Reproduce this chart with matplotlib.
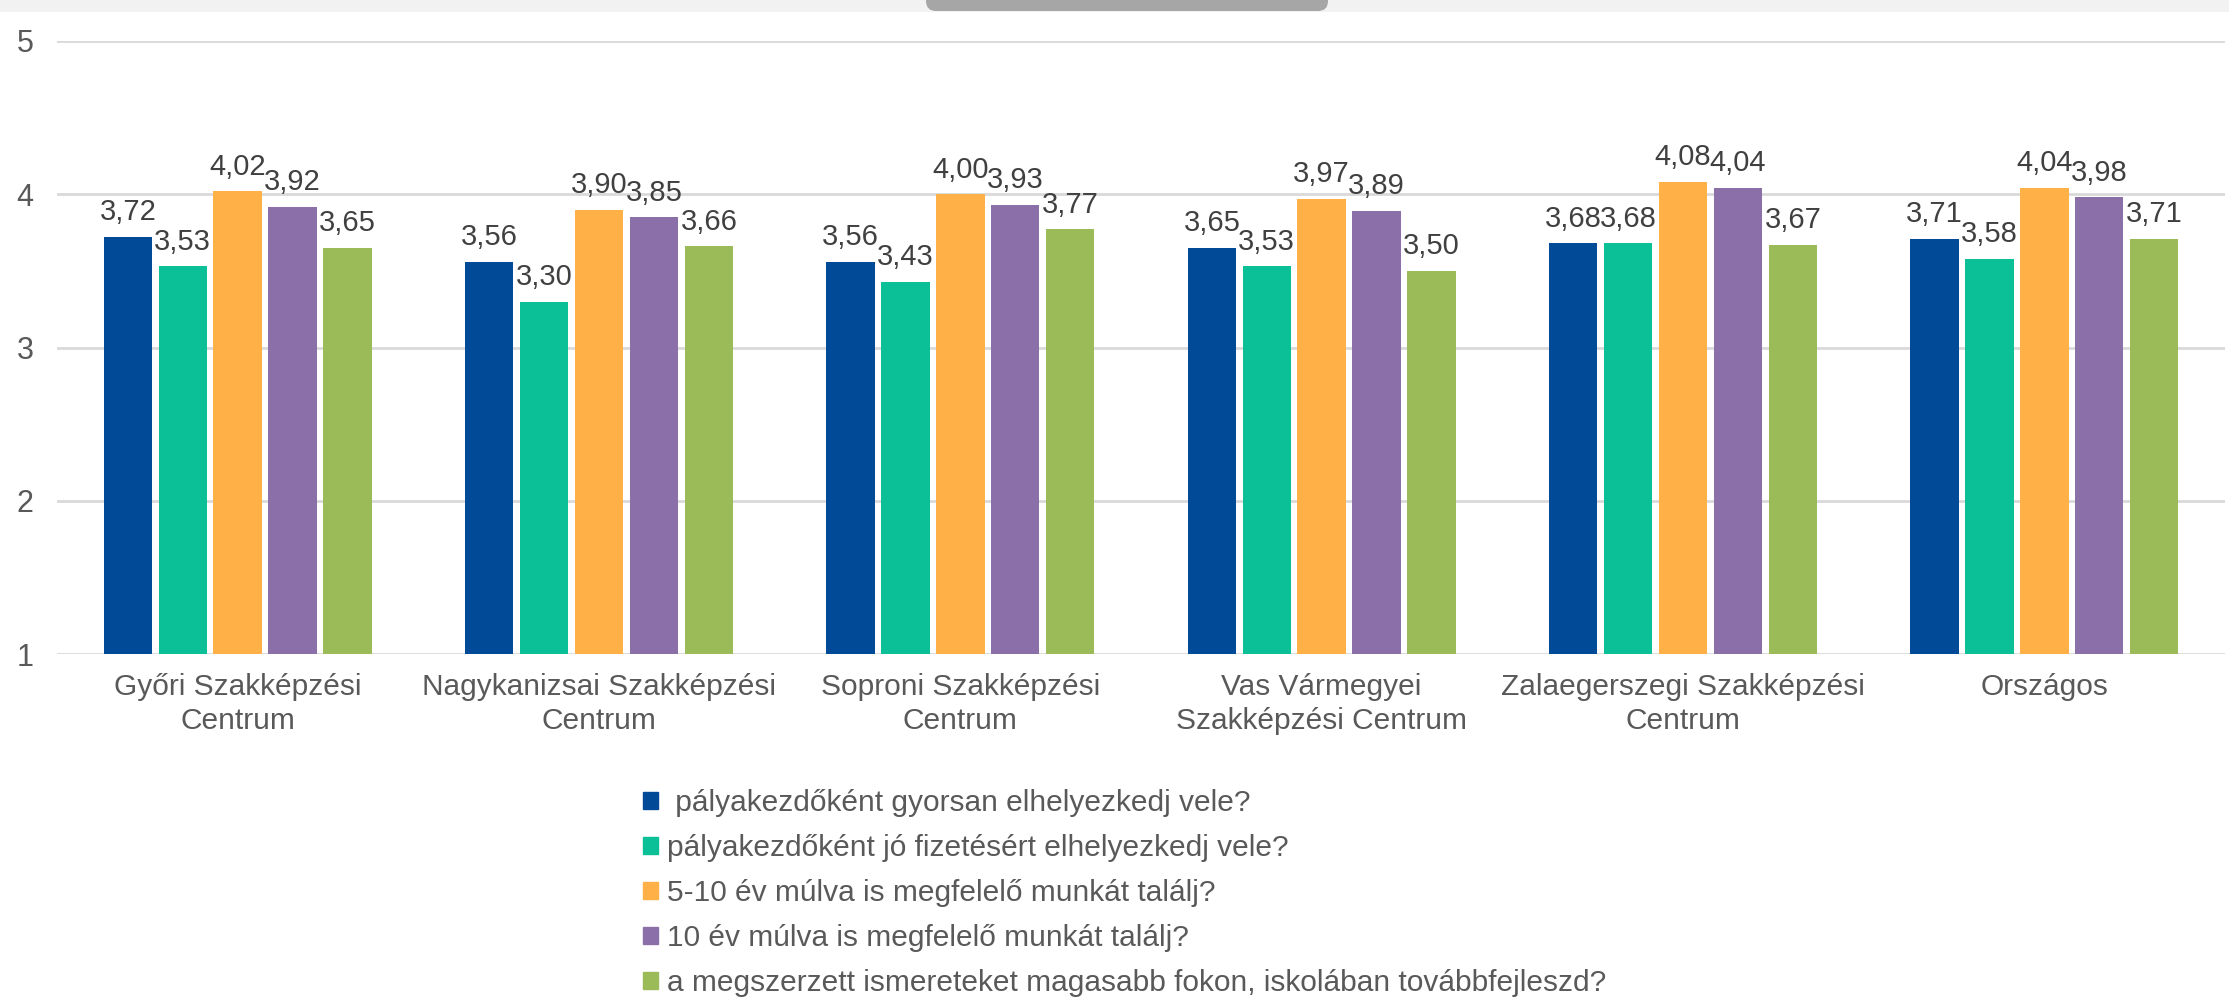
import matplotlib.pyplot as plt
from matplotlib.patches import Patch, FancyBboxPatch
import numpy as np

plt.rcParams['font.family'] = ['Liberation Sans', 'DejaVu Sans']

categories = ['Győri Szakképzési\nCentrum', 'Nagykanizsai Szakképzési\nCentrum',
              'Soproni Szakképzési\nCentrum', 'Vas Vármegyei\nSzakképzési Centrum',
              'Zalaegerszegi Szakképzési\nCentrum', 'Országos']

series_names = [' pályakezdőként gyorsan elhelyezkedj vele?',
                'pályakezdőként jó fizetésért elhelyezkedj vele?',
                '5-10 év múlva is megfelelő munkát találj?',
                '10 év múlva is megfelelő munkát találj?',
                'a megszerzett ismereteket magasabb fokon, iskolában továbbfejleszd?']

gyorsan = [3.72, 3.56, 3.56, 3.65, 3.68, 3.71]
fizetes = [3.53, 3.30, 3.43, 3.53, 3.68, 3.58]
ev_5_10 = [4.02, 3.90, 4.00, 3.97, 4.08, 4.04]
ev_10 = [3.92, 3.85, 3.93, 3.89, 4.04, 3.98]
tovabb = [3.65, 3.66, 3.77, 3.50, 3.67, 3.71]

colors = ['#004A98', '#0BBF97', '#FFB047', '#8A6FA8', '#9BBB59']

W, H = 2229, 999
fig = plt.figure(figsize=(W / 100, H / 100), dpi=100)

# grey strip at the very top (screenshot artefact)
top = fig.add_axes([0, 1 - 12 / H, 1, 12 / H])
top.set_xlim(0, W)
top.set_ylim(0, 12)
top.axis('off')
top.add_patch(plt.Rectangle((0, 0), W, 12, color='#f2f2f2', lw=0))
top.add_patch(FancyBboxPatch((926, 1), 402, 30, boxstyle='round,pad=0,rounding_size=10',
                             color='#a6a6a6', lw=0))

ax = fig.add_axes([57 / W, 1 - 654 / H, (2225 - 57) / W, (654 - 41) / H])

x = np.arange(len(categories))
step = 0.152
bw = 0.134
all_series = [gyorsan, fizetes, ev_5_10, ev_10, tovabb]
for i, (vals, col) in enumerate(zip(all_series, colors)):
    pos = x + (i - 2) * step
    ax.bar(pos, vals, bw, color=col, zorder=3)
    for p, v in zip(pos, vals):
        ax.annotate(f'{v:.2f}'.replace('.', ','), (p, v), xytext=(0, 12),
                    textcoords='offset points', ha='center', va='baseline',
                    fontsize=21, color='#404040')

ax.set_xlim(-0.5, 5.5)
ax.set_ylim(1, 5)
ax.set_yticks([1, 2, 3, 4, 5])
ax.yaxis.grid(True, color='#d9d9d9', lw=2, zorder=0)
ax.tick_params(axis='y', length=0, pad=17, labelsize=22, labelcolor='#595959')
ax.set_xticks(x)
ax.set_xticklabels(categories, linespacing=1.25)
ax.tick_params(axis='x', length=0, pad=14, labelsize=21.5, labelcolor='#595959')
for s in ax.spines.values():
    s.set_visible(False)

handles = [Patch(color=c) for c in colors]
fig.legend(handles, series_names, loc='upper left', bbox_to_anchor=(643 / W, 1 - 789 / H),
           frameon=False, fontsize=21.5, labelcolor='#595959', handlelength=0.5,
           handleheight=0.5, handletextpad=0.32, labelspacing=0.57,
           borderpad=0, borderaxespad=0)

fig.savefig('out.png', dpi=100)
